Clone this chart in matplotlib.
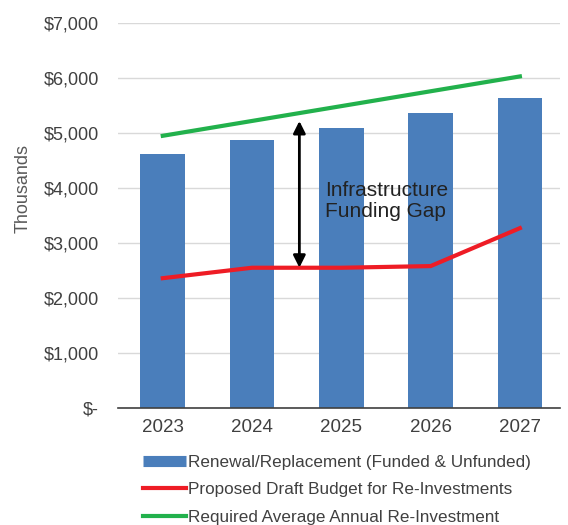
import matplotlib.pyplot as plt
from matplotlib.ticker import FuncFormatter
from matplotlib.lines import Line2D

# datos (miles de $)
anios = ['2023', '2024', '2025', '2026', '2027']
renovacion = [4620, 4870, 5090, 5360, 5640]
presupuesto = [2360, 2550, 2550, 2580, 3270]
requerido = [4950, 5220, 5490, 5760, 6030]

plt.rcParams['font.family'] = ['Liberation Sans', 'DejaVu Sans']

fig = plt.figure(figsize=(5.68, 5.25), dpi=100)
ax = fig.add_axes([0.208, 0.223, 0.778, 0.733])

x = range(len(anios))
ax.bar(x, renovacion, width=0.5, color='#4a7ebb', zorder=2)
ax.plot(x, presupuesto, color='#ee1c25', lw=3, zorder=3)
ax.plot(x, requerido, color='#22b14c', lw=3, zorder=3)

# flecha de la brecha
ax.annotate('', xy=(1.53, 5270), xytext=(1.53, 2500),
            arrowprops=dict(arrowstyle='<|-|>', color='black', lw=2,
                            mutation_scale=18), zorder=4)
ax.text(1.82, 3760, 'Infrastructure\nFunding Gap', fontsize=15,
        va='center', ha='left', color='#222222', linespacing=1.1)

ax.set_xticks(list(x))
ax.set_xticklabels(anios)
ax.set_xlim(-0.5, 4.45)
ax.set_ylim(0, 7000)
ax.set_yticks(range(0, 7001, 1000))

def fmt(v, pos):
    if v == 0:
        return '$-'
    return '${:,.0f}'.format(v)

ax.yaxis.set_major_formatter(FuncFormatter(fmt))
ax.grid(axis='y', color='#d9d9d9', lw=1, zorder=0)
for s in ['top', 'right', 'left']:
    ax.spines[s].set_visible(False)
ax.spines['bottom'].set_color('#404040')
ax.spines['bottom'].set_linewidth(1.2)
ax.tick_params(axis='x', length=0, labelsize=13.5, colors='#404040', pad=8)
ax.tick_params(axis='y', length=0, labelsize=13, colors='#404040', pad=14)
ax.set_ylabel('Thousands', fontsize=13, color='#595959')
ax.yaxis.set_label_coords(-0.195, 0.57)

# leyenda
nombres = ['Renewal/Replacement (Funded & Unfunded)',
           'Proposed Draft Budget for Re-Investments',
           'Required Average Annual Re-Investment']
manijas = [Line2D([], [], color='#4a7ebb', lw=8, solid_capstyle='butt'),
           Line2D([], [], color='#ee1c25', lw=3),
           Line2D([], [], color='#22b14c', lw=3)]
leg = fig.legend(manijas, nombres, loc='upper left', bbox_to_anchor=(0.24, 0.147),
                 frameon=False, fontsize=12.3, handlelength=2.5, handletextpad=0.15,
                 labelspacing=0.75, borderaxespad=0)
for t in leg.get_texts():
    t.set_color('#404040')

plt.savefig('out.png', dpi=100)
